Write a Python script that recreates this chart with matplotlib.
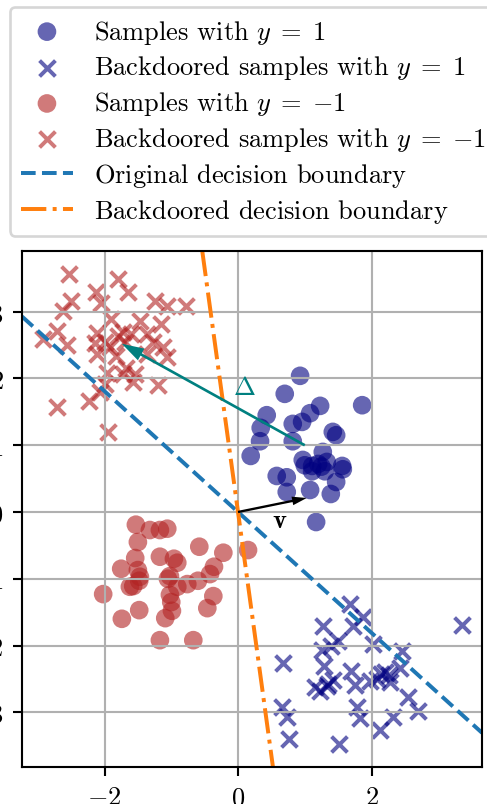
import matplotlib
matplotlib.use('Agg')
import matplotlib.pyplot as plt
import numpy as np

plt.rcParams['font.family'] = ['cmr10', 'DejaVu Serif']
plt.rcParams['mathtext.fontset'] = 'cm'
plt.rcParams['axes.formatter.use_mathtext'] = True
plt.rcParams['axes.unicode_minus'] = True

# samples with y = 1 (navy circles)
pos_x = [0.93, 0.70, 1.23, 1.08, 0.43, 0.96, 0.82, 0.34, 1.42, 1.47, 0.82, 0.33,
         0.19, 1.27, 0.97, 1.11, 1.20, 1.33, 1.56, 1.57, 1.11, 1.30, 0.58, 0.73,
         1.47, 0.73, 1.08, 1.39, 1.17, 1.86, 1.25, 1.00]
pos_y = [2.04, 1.77, 1.59, 1.48, 1.45, 1.35, 1.32, 1.26, 1.20, 1.15, 1.06, 1.06,
         0.84, 0.90, 0.78, 0.69, 0.72, 0.75, 0.69, 0.64, 0.61, 0.61, 0.54, 0.52,
         0.45, 0.30, 0.33, 0.27, -0.15, 1.60, 0.68, 0.70]

# backdoored samples with y = 1 (navy crosses)
pos_bd_x = [1.68, 1.87, 1.27, 1.72, 3.36, 1.50, 1.39, 2.02, 1.26, 2.46, 0.67, 1.29,
            1.69, 2.14, 2.26, 2.43, 2.08, 1.42, 1.33, 1.15, 1.75, 2.28, 1.98, 2.55,
            0.66, 1.78, 2.70, 0.73, 1.83, 2.32, 2.13, 0.76, 1.51, 1.23, 1.35, 2.20]
pos_bd_y = [-1.38, -1.57, -1.71, -1.71, -1.69, -1.93, -2.01, -1.98, -2.07, -2.08, -2.26, -2.31,
            -2.38, -2.43, -2.44, -2.34, -2.50, -2.52, -2.61, -2.62, -2.59, -2.55, -2.53, -2.77,
            -2.92, -2.92, -2.98, -3.07, -3.09, -3.07, -3.27, -3.40, -3.48, -2.68, -2.58, -2.40]

# samples with y = -1 (firebrick circles)
neg_x = [-1.53, -1.32, -1.17, -1.06, -1.50, -0.58, -0.22, -1.54, -1.17, -0.96, -0.91, -1.75,
         -1.50, -0.36, -0.42, -1.02, -1.05, -1.48, -0.76, -0.60, -1.57, -0.91, -1.62, -1.02,
         -2.02, -0.37, -1.00, -1.48, -0.46, -0.99, -1.74, -1.09, -1.17, -0.67, 0.15, -1.47]
neg_y = [-0.19, -0.27, -0.27, -0.25, -0.45, -0.52, -0.61, -0.69, -0.67, -0.70, -0.76, -0.85,
         -0.87, -0.82, -0.93, -0.96, -1.00, -1.03, -1.08, -1.03, -1.11, -1.12, -1.12, -1.24,
         -1.23, -1.26, -1.35, -1.47, -1.44, -1.48, -1.60, -1.59, -1.92, -1.92, -0.57, -0.97]

# backdoored samples with y = -1 (firebrick crosses)
neg_bd_x = [-2.53, -1.80, -2.13, -1.65, -2.50, -2.05, -1.24, -1.06, -0.78, -2.62, -1.90, -1.47,
            -1.15, -2.71, -2.11, -1.72, -1.60, -1.36, -2.92, -2.14, -2.56, -1.92, -1.27, -1.12,
            -2.11, -1.83, -1.36, -1.06, -1.68, -1.96, -1.72, -1.54, -1.57, -1.20, -1.99, -2.23,
            -2.71, -1.95, -2.07, -1.80, -2.00, -1.70]
neg_bd_y = [3.57, 3.49, 3.30, 3.30, 3.16, 3.13, 3.16, 3.09, 3.09, 3.01, 2.89, 2.86,
            2.82, 2.71, 2.68, 2.70, 2.67, 2.67, 2.59, 2.53, 2.50, 2.47, 2.55, 2.47,
            2.37, 2.34, 2.37, 2.32, 2.16, 2.08, 2.07, 2.07, 1.95, 1.90, 1.92, 1.66,
            1.57, 1.20, 1.80, 2.64, 2.55, 2.55]

# decision boundaries through the origin (slopes)
orig_slope = -0.905
backdoor_slope = -7.3

# arrows
v_vec = (1.03, 0.21)
delta_start = (1.0, 1.0)
delta_vec = (-2.74, 1.52)

fig = plt.figure(figsize=(487 / 190, 805 / 190), dpi=190)
ax = fig.add_axes([22 / 487, 37 / 805, 460 / 487, 516 / 805])

h1 = ax.scatter(pos_x, pos_y, s=50, color='navy', alpha=0.6, marker='o', edgecolors='none',
                label=r'Samples with $y\;=\;1$')
h2 = ax.scatter(pos_bd_x, pos_bd_y, color='navy', alpha=0.6, marker='x',
                label=r'Backdoored samples with $y\;=\;1$')
h3 = ax.scatter(neg_x, neg_y, s=50, color='firebrick', alpha=0.6, marker='o', edgecolors='none',
                label=r'Samples with $y\;=\;{-1}$')
h4 = ax.scatter(neg_bd_x, neg_bd_y, color='firebrick', alpha=0.6, marker='x',
                label=r'Backdoored samples with $y\;=\;{-1}$')
# the trailing empty math keeps every legend row the same height
h5 = ax.axline((0, 0), slope=orig_slope, color='tab:blue', linestyle='--',
               label=r'Original decision boundary$\,$')
h6 = ax.axline((0, 0), slope=backdoor_slope, color='tab:orange', linestyle='-.',
               label=r'Backdoored decision boundary$\,$')

ax.arrow(0, 0, v_vec[0], v_vec[1], width=0.035, head_width=0.13, head_length=0.22,
         length_includes_head=True, color='black', lw=0, zorder=5)
ax.text(0.62, -0.12, r'$\mathbf{v}$', ha='center', va='center', fontsize=10)

ax.arrow(delta_start[0], delta_start[1], delta_vec[0], delta_vec[1], width=0.04,
         head_width=0.2, head_length=0.33, length_includes_head=True, color='teal', lw=0, zorder=5)
ax.text(0.09, 1.87, r'$\Delta$', ha='center', va='center', fontsize=10, color='teal')

ax.set_xlim(-3.236, 3.655)
ax.set_ylim(-3.82, 3.91)
ax.set_xticks([-2, 0, 2])
ax.set_yticks([-3, -2, -1, 0, 1, 2, 3])
ax.grid()

fig.legend(handles=[h1, h2, h3, h4, h5, h6], loc='upper left',
           bbox_to_anchor=(10 / 487, 1 - 8 / 805), borderaxespad=0, labelspacing=0.3)

fig.savefig('out.png', dpi=190)
